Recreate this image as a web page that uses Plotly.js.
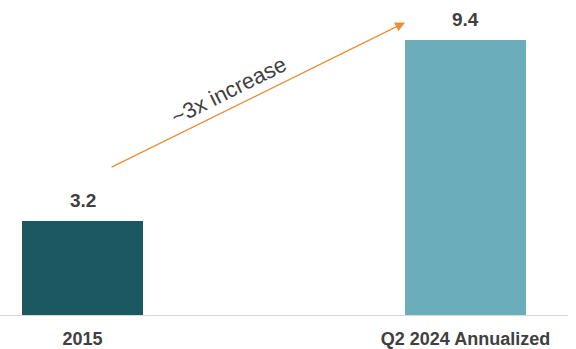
<!DOCTYPE html>
<html>
<head>
<meta charset="utf-8">
<script src="https://cdn.plot.ly/plotly-3.0.1.min.js"></script>
<style>html,body{margin:0;padding:0;background:#fff;}#chart{width:576px;height:349px;}</style>
</head>
<body>
<div id="chart"></div>
<script>
const categories = ["2015", "Q2 2024 Annualized"];
const values = [3.2, 9.4];
const valueLabels = ["3.2", "9.4"];
const barColors = ["#1B5861", "#6BADBA"];
const arrowLabel = "~3x increase";

const trace = {
  type: "bar",
  x: [0, 1],
  y: values,
  width: 0.316,
  marker: {color: barColors},
  hoverinfo: "skip",
  showlegend: false
};

const annotations = values.map((v, i) => ({
  x: i, y: v, xref: "x", yref: "y",
  text: valueLabels[i], showarrow: false,
  yanchor: "middle", yshift: 21,
  font: {family: "Liberation Sans, Arial, sans-serif", size: 19, color: "#404040", weight: "bold"}
}));

// growth arrow
annotations.push({
  x: 0.842, y: 10.0, xref: "x", yref: "y",
  ax: 0.072, ay: 5.03, axref: "x", ayref: "y",
  showarrow: true, arrowhead: 2, arrowsize: 1.5, arrowwidth: 1.3,
  arrowcolor: "#E8913A", text: ""
});
annotations.push({
  x: 0.382, y: 7.68, xref: "x", yref: "y",
  text: arrowLabel, showarrow: false, textangle: -26.5,
  font: {family: "Liberation Sans, Arial, sans-serif", size: 22, color: "#404040"}
});

const layout = {
  width: 576, height: 349,
  margin: {l: 0, r: 8, t: 0, b: 34, pad: 0},
  paper_bgcolor: "#ffffff", plot_bgcolor: "#ffffff",
  xaxis: {
    range: [-0.2154, 1.2676],
    tickvals: [0, 1], ticktext: categories,
    showline: true, linecolor: "#D9D9D9", linewidth: 1,
    showgrid: false, zeroline: false, ticks: "",
    ticklabelstandoff: 7,
    tickfont: {family: "Liberation Sans, Arial, sans-serif", size: 18, color: "#404040", weight: "bold"},
    fixedrange: true
  },
  yaxis: {
    range: [0, 10.77], visible: false, showgrid: false, zeroline: false, fixedrange: true
  },
  annotations: annotations,
  bargap: 0
};

Plotly.newPlot("chart", [trace], layout, {displayModeBar: false, staticPlot: true});
</script>
</body>
</html>
